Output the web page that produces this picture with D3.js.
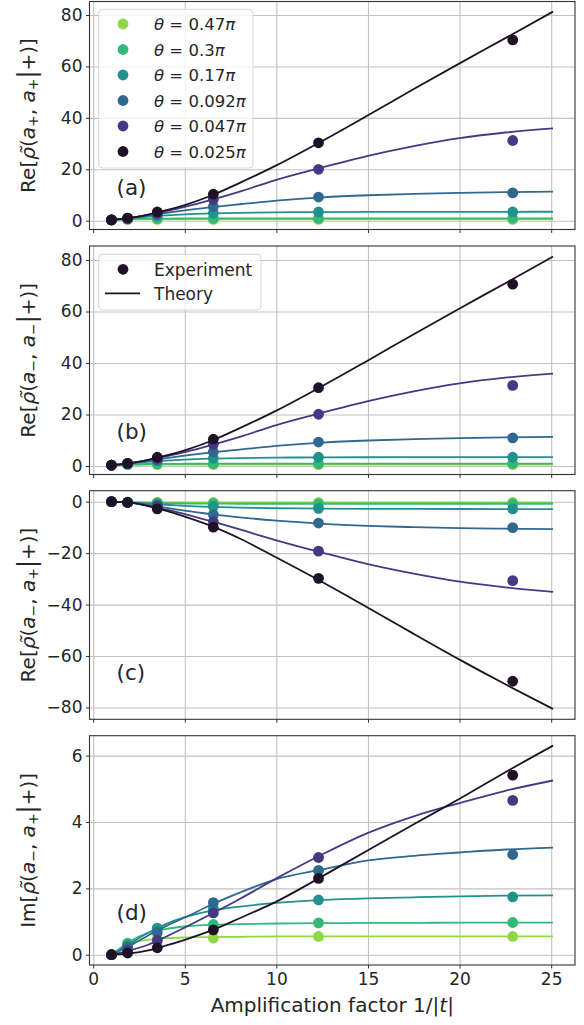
<!DOCTYPE html>
<html><head><meta charset="utf-8">
<script src="https://cdn.jsdelivr.net/npm/d3@7"></script>
<style>
body{margin:0;background:#fff}
text{font-family:"DejaVu Sans",sans-serif;fill:#262626}
</style>
</head><body><svg id="chart" width="584" height="1025"></svg>
<script>
// ---------------- data ----------------
const thetaLabels = ["0.47π","0.3π","0.17π","0.092π","0.047π","0.025π"];
const seriesColors = ["#8fd744","#35b779","#21918c","#31688e","#443983","#1f1226"];
const expX = [1.0, 1.88, 3.5, 6.56, 12.3, 22.9];
const theoryX = [1, 2, 3, 4, 5, 6.5, 8, 10, 12.5, 15, 17.5, 20, 22.5, 25.1];
const xTicks = [0, 5, 10, 15, 20, 25];

// panel (a): Re[rho(a+, a+ | +)]
const expA = [
  [0.3,0.45,0.5,0.5,0.5,0.5],
  [0.3,0.6,0.85,0.9,0.9,0.95],
  [0.3,0.8,2.0,3.0,3.4,3.4],
  [0.3,0.9,2.4,5.5,9.2,10.8],
  [0.3,1.0,2.9,8.3,20.0,31.2],
  [0.3,1.0,3.4,10.3,30.3,70.3]
];
const theoryA = [
  [0.3,0.45,0.5,0.5,0.5,0.5,0.5,0.5,0.5,0.5,0.5,0.5,0.5,0.5],
  [0.3,0.62,0.78,0.84,0.87,0.89,0.9,0.91,0.92,0.92,0.93,0.93,0.93,0.93],
  [0.3,0.95,1.6,2.1,2.5,2.85,3.05,3.25,3.35,3.4,3.42,3.45,3.47,3.48],
  [0.3,1.05,2.1,3.1,4.0,5.3,6.4,7.8,9.1,9.9,10.4,10.8,11.1,11.3],
  [0.3,1.1,2.3,3.8,5.4,8.2,11.3,15.9,20.7,25.2,29.0,32.1,34.3,35.9],
  [0.3,1.1,2.4,4.1,6.1,9.9,14.7,21.5,31.0,41.0,51.2,61.2,71.0,81.3]
];
// panel (b): Re[rho(a-, a- | +)]
const expB = [
  [0.3,0.45,0.5,0.5,0.5,0.5],
  [0.3,0.6,0.85,0.9,0.9,0.95],
  [0.3,0.8,2.0,3.0,3.4,3.4],
  [0.3,0.9,2.4,5.5,9.3,10.9],
  [0.3,1.0,2.9,8.4,20.1,31.3],
  [0.3,1.0,3.4,10.4,30.4,70.6]
];
const theoryB = [
  [0.3,0.45,0.5,0.5,0.5,0.5,0.5,0.5,0.5,0.5,0.5,0.5,0.5,0.5],
  [0.3,0.62,0.78,0.84,0.87,0.89,0.9,0.91,0.92,0.92,0.93,0.93,0.93,0.93],
  [0.3,0.95,1.6,2.1,2.5,2.85,3.05,3.25,3.35,3.4,3.42,3.45,3.47,3.48],
  [0.3,1.05,2.1,3.1,4.0,5.3,6.4,7.8,9.1,9.9,10.4,10.8,11.1,11.3],
  [0.3,1.1,2.3,3.8,5.4,8.2,11.3,15.9,20.7,25.2,29.0,32.1,34.3,35.9],
  [0.3,1.1,2.4,4.1,6.1,9.9,14.7,21.5,31.0,41.0,51.2,61.2,71.0,81.3]
];
// panel (c): Re[rho(a-, a+ | +)]
const expC = [
  [0,-0.1,-0.2,-0.3,-0.3,-0.3],
  [0,-0.2,-0.5,-0.7,-0.8,-0.8],
  [0,-0.3,-0.9,-1.8,-2.6,-2.8],
  [0,-0.3,-1.4,-5.0,-8.3,-10.1],
  [0,-0.3,-1.8,-7.8,-19.2,-30.7],
  [0,-0.3,-2.8,-9.9,-29.8,-69.8]
];
const theoryC = [
  [0,-0.15,-0.25,-0.3,-0.3,-0.3,-0.3,-0.3,-0.3,-0.3,-0.3,-0.3,-0.3,-0.3],
  [0,-0.3,-0.5,-0.6,-0.7,-0.75,-0.8,-0.8,-0.8,-0.8,-0.8,-0.8,-0.8,-0.8],
  [0,-0.35,-0.8,-1.2,-1.6,-2.0,-2.3,-2.55,-2.7,-2.78,-2.82,-2.85,-2.87,-2.88],
  [0,-0.4,-1.3,-2.4,-3.5,-4.9,-6.1,-7.4,-8.6,-9.4,-9.9,-10.3,-10.5,-10.7],
  [0,-0.4,-1.5,-3.1,-4.8,-7.7,-10.8,-15.0,-19.8,-24.3,-28.0,-31.1,-33.3,-35.1],
  [0,-0.4,-1.7,-3.6,-5.8,-9.6,-14.3,-21.7,-31.2,-41.2,-51.4,-61.4,-71.0,-80.6]
];
// panel (d): Im[rho(a-, a+ | +)]
const expD = [
  [0,0.3,0.48,0.5,0.55,0.55],
  [0,0.35,0.78,0.91,0.96,0.97],
  [0,0.28,0.8,1.4,1.65,1.74],
  [0,0.22,0.67,1.57,2.54,3.02],
  [0,0.12,0.43,1.26,2.93,4.65],
  [0,0.05,0.21,0.75,2.30,5.41]
];
const theoryD = [
  [0,0.33,0.45,0.5,0.52,0.53,0.54,0.55,0.55,0.55,0.55,0.55,0.55,0.55],
  [0,0.4,0.66,0.78,0.85,0.9,0.92,0.94,0.95,0.96,0.96,0.97,0.97,0.97],
  [0,0.33,0.66,0.93,1.13,1.33,1.45,1.56,1.65,1.7,1.73,1.76,1.78,1.79],
  [0,0.27,0.58,0.87,1.12,1.52,1.87,2.28,2.57,2.84,2.98,3.08,3.17,3.23],
  [0,0.13,0.3,0.55,0.82,1.24,1.68,2.3,3.02,3.67,4.17,4.57,4.94,5.25],
  [0,0.04,0.13,0.28,0.45,0.74,1.1,1.6,2.36,3.15,3.93,4.7,5.5,6.3]
];
const yTicksAB = [0, 20, 40, 60, 80];
const yTicksC = [-80, -60, -40, -20, 0];
const yTicksD = [0, 2, 4, 6];
const panelTags = ["(a)","(b)","(c)","(d)"];

// ---------------- layout ----------------
const svg = d3.select("#chart");
const left = 89.5, right = 575;
const x = d3.scaleLinear().domain([-0.2, 26.3]).range([left, right]);
const gridColor = "#c2c2c2";

const panels = [
  {top:1.5, bottom:229.5, dom:[-3.42,85.25], ticks:yTicksAB, exp:expA, th:theoryA, re:"Re", tagY:193, inner:["a","+","a","+"]},
  {top:246, bottom:474.5, dom:[-3.3,85.44], ticks:yTicksAB, exp:expB, th:theoryB, re:"Re", tagY:193, inner:["a","−","a","−"]},
  {top:490.7, bottom:719.3, dom:[-84.6,4.27], ticks:yTicksC, exp:expC, th:theoryC, re:"Re", tagY:189, inner:["a","−","a","+"]},
  {top:735.7, bottom:965, dom:[-0.31,6.6], ticks:yTicksD, exp:expD, th:theoryD, re:"Im", tagY:184.5, inner:["a","−","a","+"]}
];
const fmt = d => d < 0 ? "\u2212" + Math.abs(d) : String(d);

panels.forEach((p, pi) => {
  const y = d3.scaleLinear().domain(p.dom).range([p.bottom, p.top]);
  const g = svg.append("g");
  const h = p.bottom - p.top;

  // grid
  g.append("g").attr("transform", `translate(0,${p.bottom})`)
    .call(d3.axisBottom(x).tickValues(xTicks).tickSize(-h).tickFormat(""))
    .call(s => { s.select(".domain").remove(); s.selectAll("line").attr("stroke",gridColor).attr("stroke-width",1.1); });
  g.append("g").attr("transform", `translate(${left},0)`)
    .call(d3.axisLeft(y).tickValues(p.ticks).tickSize(-(right-left)).tickFormat(""))
    .call(s => { s.select(".domain").remove(); s.selectAll("line").attr("stroke",gridColor).attr("stroke-width",1.1); });

  // clip
  const cid = "clip" + pi;
  svg.append("clipPath").attr("id", cid).append("rect")
    .attr("x", left).attr("y", p.top).attr("width", right-left).attr("height", h);
  const plot = g.append("g").attr("clip-path", `url(#${cid})`);

  const line = d3.line().x((d,i) => x(theoryX[i])).y(d => y(d)).curve(d3.curveMonotoneX);
  p.th.forEach((s, si) => {
    plot.append("path").attr("d", line(s)).attr("fill","none")
      .attr("stroke", seriesColors[si]).attr("stroke-width", 1.8);
    plot.selectAll(null).data(p.exp[si]).join("circle")
      .attr("cx", (d,i) => x(expX[i])).attr("cy", d => y(d)).attr("r", 5.4)
      .attr("fill", seriesColors[si]);
  });

  // frame
  g.append("rect").attr("x", left).attr("y", p.top).attr("width", right-left).attr("height", h)
    .attr("fill","none").attr("stroke","#333").attr("stroke-width",1.1);

  // axes ticks
  const ya = g.append("g").attr("transform", `translate(${left},0)`)
    .call(d3.axisLeft(y).tickValues(p.ticks).tickSize(3.5).tickPadding(3.5).tickFormat(fmt));
  ya.select(".domain").remove();
  ya.selectAll("line").attr("stroke","#333");
  ya.selectAll("text").attr("font-size",17).attr("font-family","DejaVu Sans").attr("fill","#262626");

  const xa = g.append("g").attr("transform", `translate(0,${p.bottom})`)
    .call(d3.axisBottom(x).tickValues(xTicks).tickSize(3.5).tickPadding(4)
      .tickFormat(pi === 3 ? d3.format("d") : ""));
  xa.select(".domain").remove();
  xa.selectAll("line").attr("stroke","#333");
  xa.selectAll("text").attr("font-size",17).attr("font-family","DejaVu Sans").attr("fill","#262626");

  // panel tag
  g.append("text").attr("x", 116.5).attr("y", p.top + p.tagY).attr("font-size", 21.5).text(panelTags[pi]);

  // y label
  const cy = (p.top + p.bottom) / 2;
  const t = g.append("text").attr("transform", `translate(27.5,${cy}) rotate(-90)`)
    .attr("text-anchor","middle").attr("font-size",20).attr("dy","0.35em");
  t.append("tspan").text(p.re + "[");
  t.append("tspan").attr("font-style","italic").text("ρ\u0303");
  t.append("tspan").text("(");
  t.append("tspan").attr("font-style","italic").text(p.inner[0]);
  t.append("tspan").attr("font-size",14).attr("dy",3.5).text(p.inner[1]);
  t.append("tspan").attr("dy",-3.5).text(", ");
  t.append("tspan").attr("font-style","italic").text(p.inner[2]);
  t.append("tspan").attr("font-size",14).attr("dy",3.5).text(p.inner[3]);
  t.append("tspan").attr("dy",-3.5).attr("font-size",24).text("|");
  t.append("tspan").text("+)]");
});

// x label
svg.append("text").attr("x", (left+right)/2).attr("y", 1012).attr("text-anchor","middle")
  .attr("font-size",20)
  .call(t => {
    t.append("tspan").text("Amplification factor 1/|");
    t.append("tspan").attr("font-style","italic").text("t");
    t.append("tspan").text("|");
  });

// legend (a)
const lg = svg.append("g");
lg.append("rect").attr("x",98.7).attr("y",9.3).attr("width",154.3).attr("height",158.7).attr("rx",4)
  .attr("fill","#fff").attr("fill-opacity",0.8).attr("stroke","#d6d6d6");
thetaLabels.forEach((lab, i) => {
  const yy = 24 + i * 25.5;
  lg.append("circle").attr("cx",123).attr("cy",yy).attr("r",5.4).attr("fill",seriesColors[i]);
  const t = lg.append("text").attr("x",154).attr("y",yy+6).attr("font-size",16.5);
  t.append("tspan").attr("font-style","italic").text("θ");
  t.append("tspan").text(" = " + lab.replace("π",""));
  t.append("tspan").attr("font-style","italic").text("π");
});

// legend (b)
const lb = svg.append("g");
lb.append("rect").attr("x",98.7).attr("y",254.3).attr("width",162.3).attr("height",55.7).attr("rx",4)
  .attr("fill","#fff").attr("fill-opacity",0.8).attr("stroke","#d6d6d6");
lb.append("circle").attr("cx",123).attr("cy",269.3).attr("r",5.4).attr("fill",seriesColors[5]);
lb.append("line").attr("x1",105).attr("x2",140).attr("y1",293.3).attr("y2",293.3)
  .attr("stroke",seriesColors[5]).attr("stroke-width",1.8);
lb.append("text").attr("x",154).attr("y",275.5).attr("font-size",17).text("Experiment");
lb.append("text").attr("x",154).attr("y",299.5).attr("font-size",17).text("Theory");
</script></body></html>
